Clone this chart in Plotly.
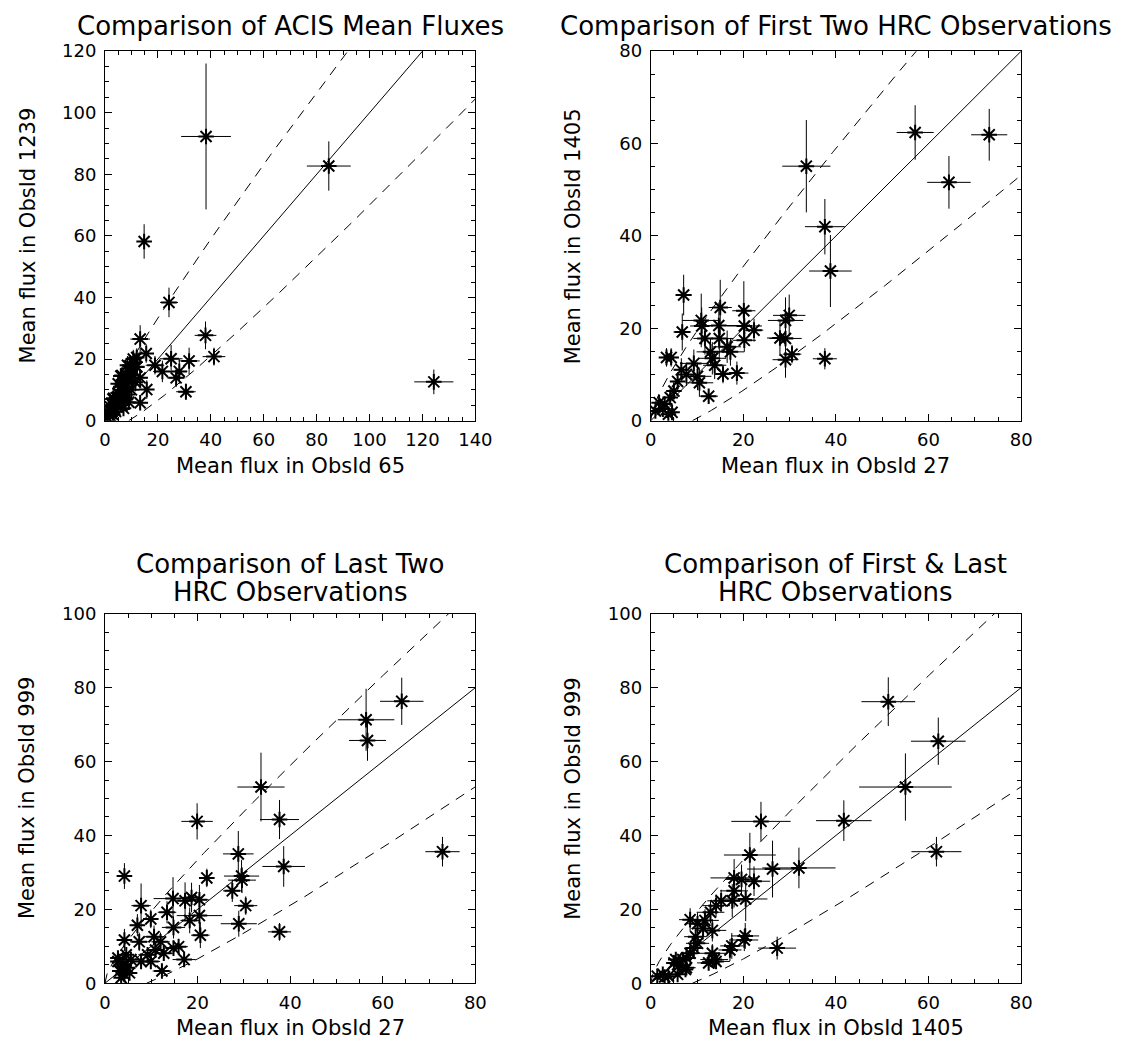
import numpy as np
import plotly.graph_objects as go

# ---------------- Panel 1: ACIS (ObsId 65 vs ObsId 1239) ----------------
P1_X = [38.2, 84.6, 14.8, 24.2, 13.3, 38.0, 41.2, 124.3, 30.6, 31.8, 25.0, 21.7, 26.9, 28.1,
        18.9, 15.6, 15.8, 13.3, 13.3, 10.7, 9.5, 12.0,
        1.0, 1.5, 2.0, 2.5, 3.0, 3.0, 3.5, 4.0, 4.0, 4.5, 5.0, 5.0, 5.5, 6.0, 6.0, 6.5,
        7.0, 7.0, 7.5, 8.0, 8.0, 8.5, 9.0, 9.5, 10.0, 10.5, 11.0, 11.5, 12.0, 12.0,
        6.0, 8.5, 3.0, 2.0, 5.0, 9.0, 7.0, 6.4, 8.3, 5.8, 3.3, 1.5]
P1_Y = [92.3, 82.7, 58.2, 38.4, 26.5, 27.7, 20.8, 12.6, 9.4, 19.4, 20.1, 16.0, 13.9, 16.0,
        18.0, 21.8, 10.1, 5.8, 13.9, 20.0, 17.9, 17.4,
        1.0, 2.5, 1.5, 3.5, 2.0, 5.0, 4.0, 3.0, 6.0, 7.5, 4.5, 9.0, 6.0, 8.0, 11.0, 5.0,
        9.5, 13.0, 7.0, 11.0, 15.0, 8.5, 13.0, 17.5, 10.0, 15.0, 19.0, 12.5, 17.5, 20.5,
        14.5, 18.0, 7.0, 4.5, 12.0, 6.0, 4.0, 14.7, 13.2, 10.0, 7.3, 3.6]
P1_XERR = [9.4, 8.3, 2.0, 3.4, 3.7, 4.1, 4.3, 7.4, 3.7, 4.0, 4.3, 3.5, 3.5, 3.0,
           3.5, 2.5, 2.5, 3.0, 2.5, 2.5, 2.0, 2.5,
           0.5, 0.7, 0.8, 1.0, 1.0, 1.0, 1.0, 1.2, 1.2, 1.2, 1.5, 1.5, 1.5, 1.5, 1.5, 1.5,
           1.5, 2.0, 2.0, 2.0, 2.0, 2.0, 2.0, 2.0, 2.0, 2.0, 2.0, 2.0, 2.5, 2.5,
           1.5, 2.0, 1.0, 1.0, 1.5, 2.0, 1.5, 1.5, 2.0, 1.5, 1.0, 0.7]
P1_YERR = [23.7, 8.0, 5.6, 4.8, 4.5, 4.5, 2.9, 4.0, 2.7, 4.3, 4.5, 3.5, 3.0, 4.0,
           3.0, 3.0, 3.0, 2.0, 3.0, 3.0, 3.0, 3.0,
           1.0, 1.2, 1.0, 1.5, 1.2, 1.5, 1.5, 1.5, 2.0, 2.0, 2.0, 2.0, 2.0, 2.0, 2.5, 2.0,
           2.5, 2.5, 2.0, 2.5, 3.0, 2.5, 3.0, 3.0, 2.5, 3.0, 3.0, 3.0, 3.0, 3.0,
           2.5, 3.0, 2.0, 1.5, 2.5, 2.0, 1.5, 2.5, 2.5, 2.0, 1.5, 1.2]

# ---------------- Panel 2: First two HRC (ObsId 27 vs ObsId 1405) ----------------
P2_X = [33.6, 57.1, 73.1, 64.4, 37.6, 38.8, 37.6, 7.1, 6.8, 20.1, 10.9, 20.2, 22.3, 20.2,
        14.7, 14.8, 15.0, 29.1, 29.9, 27.9, 29.1, 29.1, 30.5, 18.6, 15.6, 12.5, 17.2, 13.3,
        12.9, 11.7, 9.3, 10.1, 10.5, 3.4, 4.4, 5.8, 6.6, 5.0, 4.2, 3.0, 1.8, 1.0, 3.8, 4.6,
        2.6, 7.7, 13.8, 16.5, 11.0]
P2_Y = [55.1, 62.4, 61.9, 51.6, 42.0, 32.4, 13.4, 27.2, 19.2, 23.8, 21.7, 20.5, 19.6, 17.4,
        20.6, 17.8, 24.5, 21.7, 22.8, 17.9, 17.8, 13.2, 14.4, 10.3, 10.1, 5.3, 14.9, 13.5,
        14.9, 17.8, 12.4, 9.6, 8.2, 13.7, 13.7, 8.5, 11.0, 6.4, 5.0, 3.6, 3.9, 2.1, 1.4, 1.8,
        2.5, 10.0, 12.0, 16.0, 20.5]
P2_XERR = [5.2, 4.0, 3.9, 4.7, 4.3, 4.6, 2.6, 1.8, 1.9, 2.5, 4.1, 3.8, 2.0, 2.5,
           4.5, 3.0, 2.5, 3.8, 3.5, 2.8, 3.5, 2.8, 2.0, 2.5, 2.0, 2.0, 3.0, 3.0,
           3.0, 2.5, 3.0, 3.0, 3.0, 1.5, 1.5, 1.5, 1.5, 1.5, 1.2, 1.2, 1.0, 0.8, 1.2, 1.2,
           1.0, 2.0, 2.5, 3.0, 2.5]
P2_YERR = [10.0, 5.9, 5.6, 5.7, 6.0, 7.8, 2.3, 4.4, 4.0, 6.4, 5.8, 3.5, 2.5, 2.5,
           5.0, 4.0, 6.0, 5.0, 4.5, 3.9, 3.5, 3.9, 2.0, 2.5, 2.0, 1.5, 3.0, 3.5,
           3.0, 3.5, 3.0, 3.0, 3.0, 2.0, 2.0, 2.0, 2.5, 2.0, 2.0, 1.5, 1.5, 1.2, 1.2, 1.2,
           1.2, 2.5, 3.0, 3.5, 4.0]

# ---------------- Panel 3: Last two HRC (ObsId 27 vs ObsId 999) ----------------
P3_X = [64.1, 56.4, 56.7, 33.7, 19.9, 37.7, 38.6, 72.9, 37.7, 28.8, 29.5, 29.6, 27.5, 30.4,
        28.9, 22.0, 20.4, 17.3, 18.7, 14.7, 20.4, 18.3, 20.6, 13.4, 14.8, 9.9, 7.8, 7.0,
        4.2, 4.2, 7.4, 10.6, 12.0, 10.9, 12.7, 15.9, 14.8, 17.1, 12.3, 9.2, 7.8, 9.9,
        2.8, 3.9, 4.9, 3.2, 4.2, 5.3, 2.8, 5.6, 4.6, 3.5, 4.0]
P3_Y = [76.3, 71.3, 65.7, 53.1, 43.8, 44.3, 31.6, 35.6, 13.9, 35.0, 29.0, 27.9, 25.0, 21.0,
        16.1, 28.5, 22.6, 22.3, 23.2, 22.9, 18.3, 17.0, 13.0, 19.2, 15.1, 17.4, 21.0, 15.7,
        29.0, 11.7, 11.2, 12.6, 11.2, 9.0, 8.1, 9.9, 9.5, 6.4, 3.3, 7.7, 5.9, 5.9,
        5.9, 5.0, 4.2, 3.3, 2.4, 2.8, 6.8, 6.4, 7.7, 1.5, 4.5]
P3_XERR = [4.7, 6.1, 4.0, 5.1, 3.4, 4.2, 4.6, 3.7, 2.5, 3.3, 3.8, 3.0, 2.0, 2.5,
           3.9, 1.5, 2.0, 2.0, 2.0, 4.2, 4.9, 2.0, 2.0, 2.0, 2.5, 1.5, 2.1, 1.5,
           1.0, 1.5, 2.0, 2.0, 2.0, 2.0, 2.0, 2.0, 2.0, 2.5, 2.0, 2.0, 2.0, 2.0,
           1.0, 1.0, 1.0, 1.0, 1.0, 1.0, 1.0, 1.5, 1.0, 1.0, 1.0]
P3_YERR = [6.4, 8.4, 5.5, 9.3, 4.9, 5.3, 5.5, 4.0, 2.4, 6.2, 4.4, 3.5, 3.0, 2.5,
           3.5, 2.5, 4.0, 5.0, 4.0, 5.8, 4.4, 3.5, 3.5, 3.0, 3.0, 2.5, 6.0, 3.0,
           3.5, 3.0, 2.5, 3.0, 2.5, 2.0, 2.0, 2.0, 2.0, 2.0, 1.5, 2.0, 2.0, 2.0,
           2.0, 2.0, 2.0, 1.5, 1.5, 1.5, 2.0, 2.0, 2.0, 1.2, 2.0]

# ---------------- Panel 4: First & last HRC (ObsId 1405 vs ObsId 999) ----------------
P4_X = [51.3, 62.1, 55.0, 41.7, 61.7, 23.8, 21.4, 26.3, 32.0, 18.0, 19.6, 22.3, 18.0, 17.6,
        20.5, 15.2, 14.1, 12.9, 11.7, 8.5, 10.1, 11.3, 13.3, 9.7, 10.1, 20.4, 20.2, 17.5,
        17.1, 27.3, 13.3, 13.7, 12.5, 14.1, 9.3, 8.5, 7.7, 6.9, 5.4, 5.0, 6.2, 7.7, 5.8,
        3.8, 2.6, 1.4, 3.0, 7.5]
P4_Y = [76.2, 65.5, 53.1, 44.0, 35.6, 43.8, 34.7, 30.9, 31.2, 28.5, 28.1, 27.6, 25.0, 22.3,
        22.8, 22.3, 21.0, 19.2, 17.0, 17.2, 16.1, 14.8, 14.3, 12.6, 10.8, 12.8, 11.7, 10.1,
        9.0, 9.5, 8.1, 6.4, 5.5, 5.9, 9.5, 8.1, 6.8, 6.4, 6.4, 5.5, 5.0, 4.2, 2.4,
        1.9, 2.4, 1.9, 1.7, 3.7]
P4_XERR = [5.8, 5.9, 10.0, 6.0, 5.4, 6.4, 5.6, 5.5, 7.9, 5.1, 3.5, 3.5, 3.0, 3.0,
           4.7, 3.0, 3.0, 3.0, 3.0, 2.4, 2.5, 2.5, 3.0, 2.5, 2.5, 3.0, 3.0, 2.5,
           2.5, 4.1, 3.0, 3.0, 2.5, 3.0, 2.0, 2.0, 2.0, 2.0, 1.5, 1.5, 1.5, 2.0, 1.5,
           1.0, 1.0, 0.8, 1.0, 1.5]
P4_YERR = [6.6, 6.4, 9.1, 5.5, 4.0, 5.3, 6.0, 7.7, 5.5, 5.1, 4.0, 4.0, 4.5, 4.5,
           6.0, 3.0, 3.0, 3.0, 3.0, 3.1, 3.0, 3.0, 3.0, 2.5, 2.5, 3.5, 3.0, 3.5,
           3.0, 3.1, 2.5, 2.5, 2.0, 2.0, 2.5, 2.5, 2.0, 2.0, 2.0, 2.0, 1.5, 1.5, 1.2,
           1.0, 1.0, 0.8, 1.0, 1.5]

TITLES = [["Comparison of ACIS Mean Fluxes"],
          ["Comparison of First Two HRC Observations"],
          ["Comparison of Last Two", "HRC Observations"],
          ["Comparison of First &amp; Last", "HRC Observations"]]
XTITLES = ["Mean flux in ObsId 65", "Mean flux in ObsId 27",
           "Mean flux in ObsId 27", "Mean flux in ObsId 1405"]
YTITLES = ["Mean flux in ObsId 1239", "Mean flux in ObsId 1405",
           "Mean flux in ObsId 999", "Mean flux in ObsId 999"]
XMAX = [140, 80, 80, 80]
YMAX = [120, 80, 100, 100]

DATA = [(P1_X, P1_Y, P1_XERR, P1_YERR), (P2_X, P2_Y, P2_XERR, P2_YERR),
        (P3_X, P3_Y, P3_XERR, P3_YERR), (P4_X, P4_Y, P4_XERR, P4_YERR)]

W, H = 1144, 1053
# plot boxes in pixels: left, right, top, bottom
BOXES = [(101, 479, 41, 418), (658, 1036, 41, 418),
         (101, 479, 615, 992), (658, 1036, 615, 992)]
TITLE_LINES_Y = [[15], [15], [564, 593], [564, 593]]

FONT = "DejaVu Sans"
fig = go.Figure()
layout = dict(width=W, height=H, margin=dict(l=0, r=0, t=0, b=0),
              paper_bgcolor="white", plot_bgcolor="white", showlegend=False)
annotations = []

for i in range(4):
    xs_name = "x" if i == 0 else f"x{i+1}"
    ys_name = "y" if i == 0 else f"y{i+1}"
    xmax, ymax = XMAX[i], YMAX[i]
    t = np.linspace(0, xmax, 400)
    tl = np.linspace(9, xmax, 400)
    fig.add_trace(go.Scatter(x=t, y=t, mode="lines", line=dict(color="black", width=1),
                             xaxis=xs_name, yaxis=ys_name, hoverinfo="skip"))
    fig.add_trace(go.Scatter(x=t, y=t + 3 * np.sqrt(t), mode="lines",
                             line=dict(color="black", width=1, dash="10px,8px"),
                             xaxis=xs_name, yaxis=ys_name, hoverinfo="skip"))
    fig.add_trace(go.Scatter(x=tl, y=tl - 3 * np.sqrt(tl), mode="lines",
                             line=dict(color="black", width=1, dash="10px,8px"),
                             xaxis=xs_name, yaxis=ys_name, hoverinfo="skip"))
    px, py, pxe, pye = DATA[i]
    fig.add_trace(go.Scatter(
        x=px, y=py, mode="markers",
        marker=dict(symbol="asterisk-open", size=13, color="black",
                    line=dict(color="black", width=2)),
        error_x=dict(type="data", array=pxe, width=0, thickness=1, color="black"),
        error_y=dict(type="data", array=pye, width=0, thickness=1, color="black"),
        xaxis=xs_name, yaxis=ys_name))

    l, r, tp, b = BOXES[i]
    axis_common = dict(showline=True, linecolor="black", linewidth=1, mirror="ticks",
                       ticks="inside", ticklen=7, tickwidth=1, tickcolor="black",
                       showgrid=False, zeroline=False, tick0=0, dtick=20,
                       minor=dict(ticks="inside", ticklen=4, dtick=5, tickcolor="black",
                                  tickwidth=1, showgrid=False),
                       tickfont=dict(family=FONT, size=18, color="black"))
    xkey = "xaxis" if i == 0 else f"xaxis{i+1}"
    ykey = "yaxis" if i == 0 else f"yaxis{i+1}"
    layout[xkey] = dict(axis_common, domain=[l / W, r / W], range=[0, xmax],
                        anchor=ys_name, ticklabelstandoff=3)
    layout[ykey] = dict(axis_common, domain=[1 - b / H, 1 - tp / H], range=[0, ymax],
                        anchor=xs_name, ticklabelstandoff=4)

    cx = (l + r) / 2
    cy = (tp + b) / 2
    for line_text, ly in zip(TITLES[i], TITLE_LINES_Y[i]):
        annotations.append(dict(text=line_text, x=cx / W, y=1 - ly / H, xref="paper",
                                yref="paper", xanchor="center", yanchor="middle",
                                showarrow=False,
                                font=dict(family=FONT, size=26, color="black")))
    annotations.append(dict(text=XTITLES[i], x=cx / W, y=1 - (b + 46) / H, xref="paper",
                            yref="paper", xanchor="center", yanchor="middle",
                            showarrow=False,
                            font=dict(family=FONT, size=21, color="black")))
    annotations.append(dict(text=YTITLES[i], x=(l - 79) / W, y=1 - cy / H, xref="paper",
                            yref="paper", xanchor="center", yanchor="middle",
                            textangle=-90, showarrow=False,
                            font=dict(family=FONT, size=21, color="black")))

layout["annotations"] = annotations
fig.update_layout(**layout)
fig.write_html("out.html")
